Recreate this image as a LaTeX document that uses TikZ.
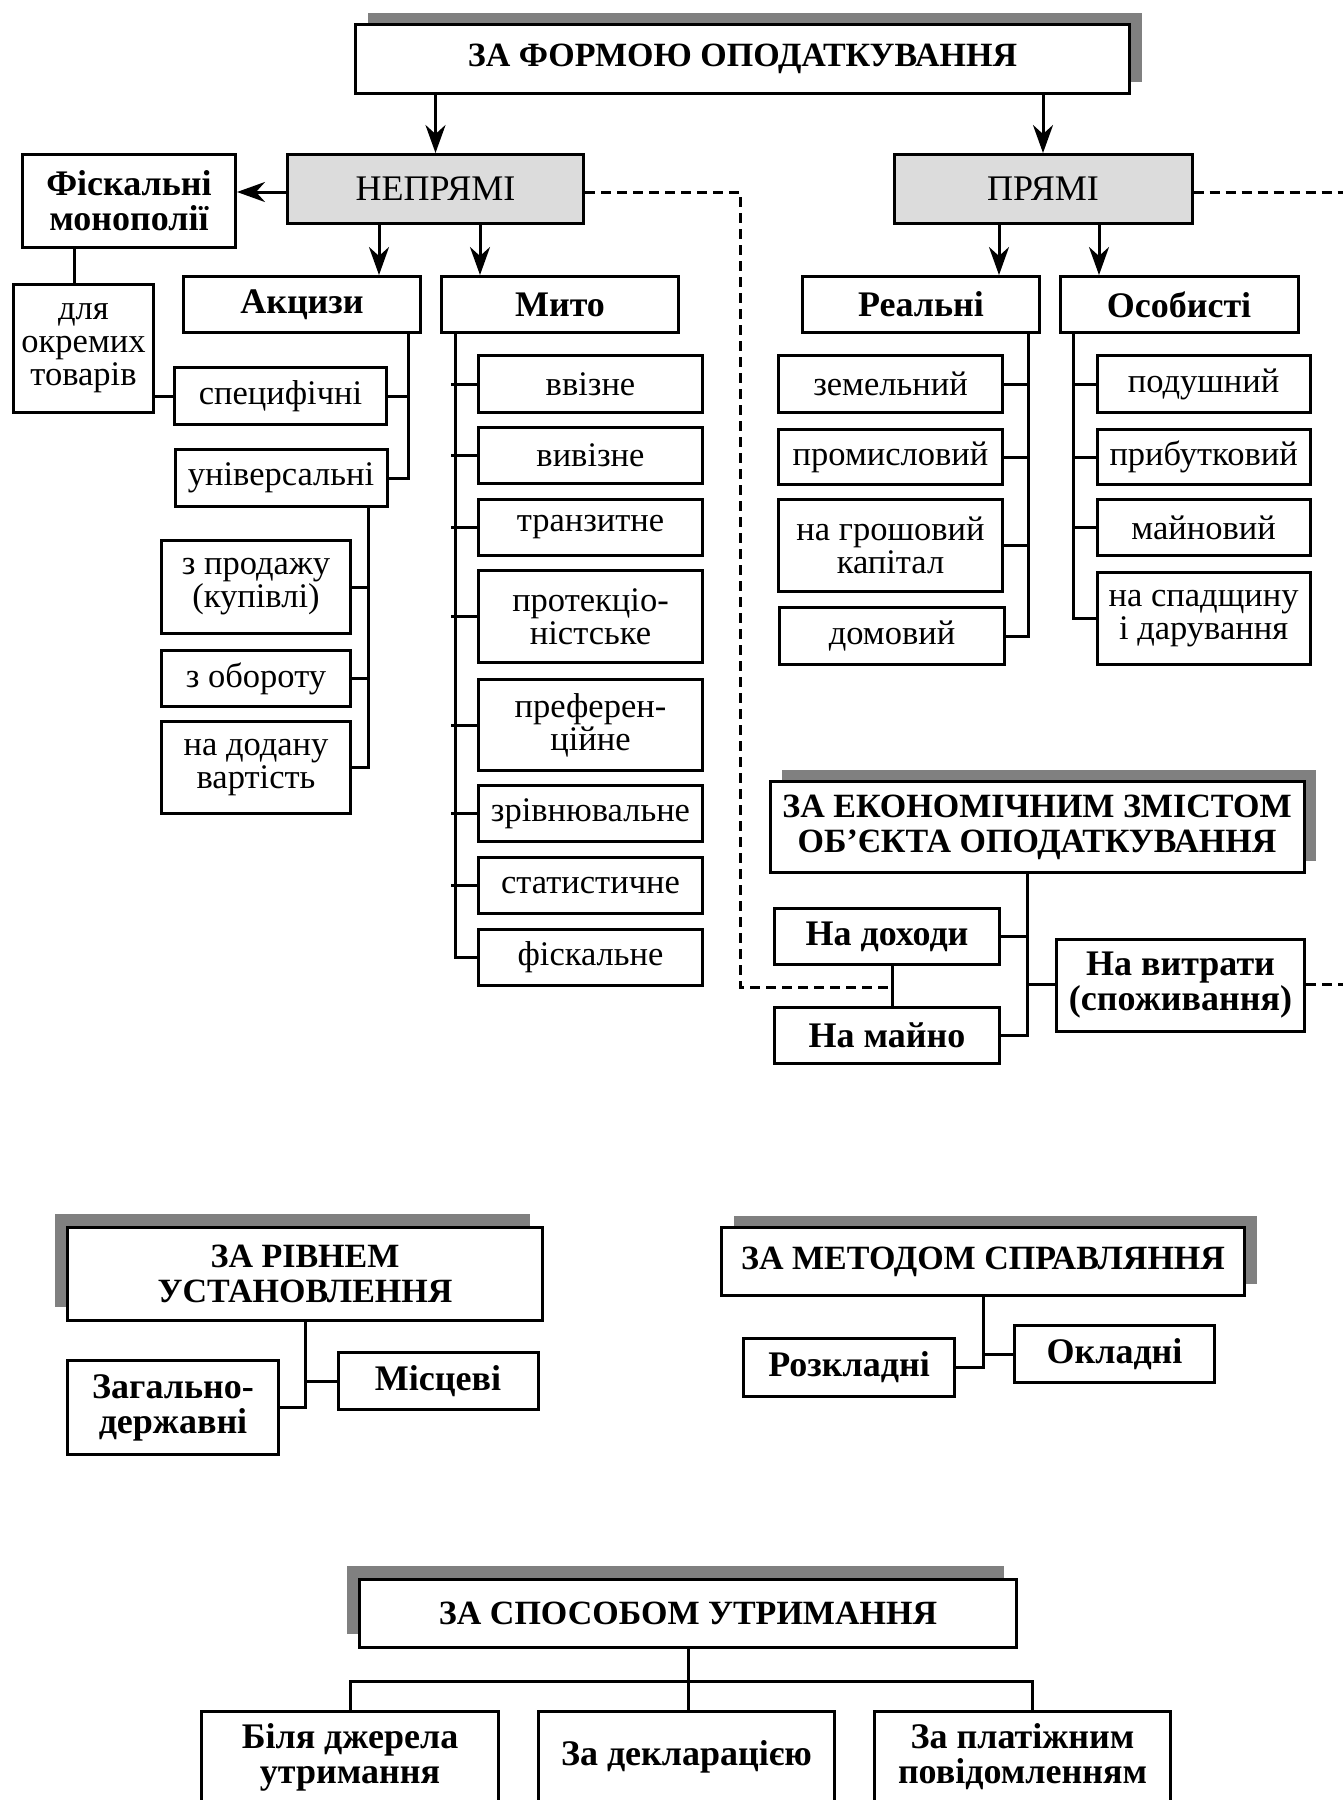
\documentclass[tikz,border=0pt]{standalone}
\usepackage{fontspec}
\setmainfont{Liberation Serif}
\usetikzlibrary{arrows.meta,shadows}
\definecolor{boxgrey}{HTML}{DCDCDC}
\definecolor{shgrey}{HTML}{808080}

\begin{document}
\begin{tikzpicture}[x=1pt,y=-1pt]
\tikzset{box/.style={draw,line width=3pt,fill=white,align=center,inner sep=1pt,font=\fontsize{34.5}{33}\selectfont},
  bbox/.style={box,font=\fontsize{36}{35}\selectfont\bfseries},
  hbox/.style={box,font=\fontsize{34}{35}\selectfont\bfseries},
  gbox/.style={box,fill=boxgrey,font=\fontsize{36}{35}\selectfont},
  sz/.style 2 args={minimum width=#1pt,minimum height=#2pt},
  shR/.style={general shadow={shadow xshift=12pt,shadow yshift=12pt,fill=shgrey}},
  shL/.style={general shadow={shadow xshift=-13pt,shadow yshift=14pt,fill=shgrey}},
  ln/.style={line width=3pt},
  arr/.style={line width=3pt,-{Stealth[length=28pt,width=20pt,inset=9pt]}},
  dsh/.style={line width=3pt,dash pattern=on 10pt off 6pt}}
\useasboundingbox (0,0) rectangle (1343,1800);

% за формою оподаткування
\node[hbox,shR,sz={774}{69}] (forma) at (742.5,59) {ЗА ФОРМОЮ ОПОДАТКУВАННЯ};
\node[gbox,sz={296}{69}] (nepr) at (435.5,189) {НЕПРЯМІ};
\node[gbox,sz={298}{69}] (pryami) at (1043,189) {ПРЯМІ};
\node[bbox,sz={213}{93}] (fisk) at (129,201) {Фіскальні\\монополії};
\node[box,sz={140}{128}] (okr) at (83.5,348.5) {для\\окремих\\товарів};
\node[bbox,sz={237}{56}] (akc) at (302,304.5) {Акцизи};
\node[bbox,sz={237}{56}] (myto) at (560,304.5) {Мито};
\node[box,sz={212}{57}] (spec) at (280.5,396) {специфічні};
\node[box,sz={212}{57}] (univ) at (281,478) {універсальні};
\node[box,sz={189}{93}] (prod) at (256,587) {з продажу\\(купівлі)};
\node[box,sz={189}{56}] (obor) at (256,678.5) {з обороту};
\node[box,sz={189}{92}] (dod) at (256,767.5) {на додану\\вартість};
% мито
\node[box,sz={224}{57}] (vvizne) at (590.5,384) {ввізне};
\node[box,sz={224}{56}] (vyvizne) at (590.5,455.5) {вивізне};
\node[box,sz={224}{56}] (tranz) at (590.5,527.5) {транзитне};
\node[box,sz={224}{92}] (prot) at (590.5,616.5) {протекціо-\\ністське};
\node[box,sz={224}{91}] (pref) at (590.5,725) {преферен-\\ційне};
\node[box,sz={224}{56}] (zriv) at (590.5,813.5) {зрівнювальне};
\node[box,sz={224}{56}] (stat) at (590.5,885.5) {статистичне};
\node[box,sz={224}{56}] (fiskm) at (590.5,957.5) {фіскальне};
% прямі
\node[bbox,sz={237}{56}] (real) at (921,304.5) {Реальні};
\node[bbox,sz={238}{56}] (osob) at (1179,304.5) {Особисті};
\node[box,sz={224}{57}] (zem) at (890.5,384) {земельний};
\node[box,sz={224}{55}] (prom) at (890.5,457) {промисловий};
\node[box,sz={224}{92}] (grosh) at (890.5,545.5) {на грошовий\\капітал};
\node[box,sz={225}{57}] (dom) at (892,636) {домовий};
\node[box,sz={213}{57}] (podush) at (1203.6,384) {подушний};
\node[box,sz={213}{55}] (prybut) at (1203.6,457) {прибутковий};
\node[box,sz={213}{56}] (mayn) at (1203.6,527.5) {майновий};
\node[box,sz={213}{92}] (spad) at (1203.6,618.75) {на спадщину\\і дарування};
% економічний зміст
\node[hbox,shR,sz={534}{91}] (ekon) at (1037,827) {ЗА ЕКОНОМІЧНИМ ЗМІСТОМ\\ОБ’ЄКТА ОПОДАТКУВАННЯ};
\node[bbox,sz={225}{56}] (dokh) at (887,936.5) {На доходи};
\node[bbox,sz={225}{56}] (mayno) at (887,1035.5) {На майно};
\node[bbox,sz={248}{92}] (vytr) at (1180.5,985.5) {На витрати\\(споживання)};
% рівень, метод, спосіб
\node[hbox,shL,sz={475}{93}] (riv) at (305,1274) {ЗА РІВНЕМ\\УСТАНОВЛЕННЯ};
\node[bbox,sz={211}{94}] (zag) at (173,1407.5) {Загально-\\державні};
\node[bbox,sz={200}{57}] (mists) at (438,1381) {Місцеві};
\node[hbox,shR,sz={523}{68}] (metod) at (983,1261.5) {ЗА МЕТОДОМ СПРАВЛЯННЯ};
\node[bbox,sz={211}{58}] (rozk) at (849,1367.5) {Розкладні};
\node[bbox,sz={200}{57}] (okl) at (1114.5,1354) {Окладні};
\node[hbox,shL,sz={657}{68}] (sposob) at (688,1613.5) {ЗА СПОСОБОМ УТРИМАННЯ};
\node[bbox,sz={297}{92}] (bilya) at (350,1757) {Біля джерела\\утримання};
\node[bbox,sz={296}{92}] (declar) at (686.5,1757) {За декларацією};
\node[bbox,sz={296}{92}] (platizh) at (1022.5,1757) {За платіжним\\повідомленням};

\coordinate (redge) at (1343,0);
\coordinate (ak) at (408.5,334);
\coordinate (mt) at (455,334);
\coordinate (ut) at (368.7,508);
\coordinate (rt) at (1028.5,334);
\coordinate (ot) at (1073.5,334);
\coordinate (et) at (1027,874);
\coordinate (dm) at (892.7,0);
\coordinate (dcorner) at (740,987);
\coordinate (bar) at (688,1681);

\draw[arr] (forma.south -| nepr) -- (nepr.north);
\draw[arr] (forma.south -| pryami) -- (pryami.north);
\draw[arr] ([yshift=-3pt]nepr.west) -- ([yshift=-3pt]nepr.west -| fisk.east);
\draw[arr] ([xshift=-56.5pt]nepr.south) -- ([xshift=-56.5pt]nepr.south |- akc.north);
\draw[arr] ([xshift=44.5pt]nepr.south) -- ([xshift=44.5pt]nepr.south |- myto.north);
\draw[arr] ([xshift=-44pt]pryami.south) -- ([xshift=-44pt]pryami.south |- real.north);
\draw[arr] ([xshift=56pt]pryami.south) -- ([xshift=56pt]pryami.south |- osob.north);

\draw[ln] ([xshift=-9pt]okr.north) -- ([xshift=-9pt]okr.north |- fisk.south);
\draw[ln] (spec.west) -- (spec.west -| okr.east);
\draw[ln] (ak) |- (univ.east);
\draw[ln] (spec.east) -- (spec.east -| ak);
\draw[ln] (ut) |- (dod.east);
\foreach \n in {prod,obor} \draw[ln] (\n.east) -- (\n.east -| ut);
\draw[ln] (mt) |- (fiskm.west);
\foreach \n in {vvizne,vyvizne,tranz,prot,pref,zriv,stat} \draw[ln] (\n.west) -- ([xshift=-4pt]\n.west -| mt);
\draw[ln] (rt) |- (dom.east);
\foreach \n in {zem,prom,grosh} \draw[ln] (\n.east) -- (\n.east -| rt);
\draw[ln] (ot) |- (spad.west);
\foreach \n in {podush,prybut,mayn} \draw[ln] (\n.west) -- (\n.west -| ot);

\draw[ln] (et) |- (mayno.east);
\draw[ln] (dokh.east) -- (dokh.east -| et);
\draw[ln] ([yshift=1.5pt]vytr.west) -- ([yshift=1.5pt]vytr.west -| et);
\draw[ln] (dokh.south -| dm) -- (mayno.north -| dm);
\draw[dsh] ([yshift=-3pt]nepr.east) -| (dcorner) -- (dcorner -| dm);
\draw[dsh] ([yshift=-3pt]pryami.east) -- ([yshift=-3pt]pryami.east -| redge);
\draw[dsh] ([yshift=1.5pt]vytr.east) -- ([yshift=1.5pt]vytr.east -| redge);

\draw[ln] (riv.south) |- (zag.east);
\draw[ln] (mists.west) -- (mists.west -| riv.south);
\draw[ln] (metod.south) |- (rozk.east);
\draw[ln] (okl.west) -- (okl.west -| metod.south);
\draw[ln] (sposob.south) -- (bar);
\draw[ln] (bilya.north) |- (bar) -| ([xshift=9.5pt]platizh.north);
\draw[ln] (declar.north -| bar) -- (bar);
\end{tikzpicture}
\end{document}
